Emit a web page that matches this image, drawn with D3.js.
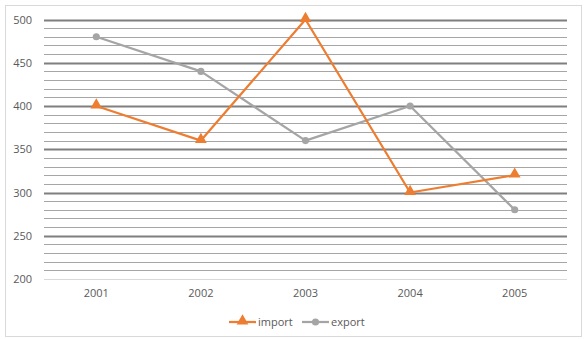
<!DOCTYPE html>
<html><head><meta charset="utf-8">
<script src="https://cdn.jsdelivr.net/npm/d3@7"></script>
<style>html,body{margin:0;padding:0;background:#fff;}svg{display:block;}</style>
</head><body>
<svg id="c" width="588" height="339"></svg>
<script>
const years = ["2001","2002","2003","2004","2005"];
const importValues = [400, 360, 500, 300, 320];
const exportValues = [480, 440, 360, 400, 280];
const yTicks = [200, 250, 300, 350, 400, 450, 500];
const seriesNames = ["import", "export"];

const svg = d3.select("#c");
const W = 588, H = 339;
const m = {left: 44, right: 21, top: 19.5, bottom: 60};
const font = "'Open Sans', 'Noto Sans', sans-serif";

svg.append("rect").attr("x", 5.5).attr("y", 5.5).attr("width", 576).attr("height", 331)
  .attr("fill", "#fff").attr("stroke", "#d9d9d9").attr("stroke-width", 1);

const x = d3.scaleBand().domain(years).range([m.left, W - m.right]);
const y = d3.scaleLinear().domain([200, 500]).range([279, 19.5]);

// gridlines (minor every 10, major every 50)
const minor = d3.range(200, 501, 10);
svg.append("g").selectAll("line").data(minor).join("line")
  .attr("x1", m.left).attr("x2", W - m.right)
  .attr("y1", d => Math.round(y(d)) + 0.5).attr("y2", d => Math.round(y(d)) + 0.5)
  .attr("stroke", d => d === 200 ? "#d9d9d9" : (d % 50 === 0 ? "#7f7f7f" : "#a6a6a6"))
  .attr("stroke-width", d => (d % 50 === 0 && d !== 200) ? 2.2 : 1);

// y axis labels
const yAxis = d3.axisLeft(y).tickValues(yTicks).tickSize(0).tickPadding(12);
const gy = svg.append("g").attr("transform", `translate(${m.left},0)`).call(yAxis);
gy.select(".domain").remove();
gy.selectAll("text").attr("font-family", font).attr("font-size", 11).attr("fill", "#595959");

// x axis labels
const xAxis = d3.axisBottom(x).tickSize(0).tickPadding(10);
const gx = svg.append("g").attr("transform", `translate(0,279)`).call(xAxis);
gx.select(".domain").remove();
gx.selectAll("text").attr("font-family", font).attr("font-size", 11).attr("fill", "#595959");

const cx = d => x(d) + x.bandwidth() / 2;
const series = [
  {name: seriesNames[0], values: importValues, color: "#ed7d31", marker: "tri"},
  {name: seriesNames[1], values: exportValues, color: "#a5a5a5", marker: "circ"}
];
const line = d3.line().x((d, i) => cx(years[i])).y(d => y(d));
const triSym = d3.symbol().type(d3.symbolTriangle).size(60);
const circSym = d3.symbol().type(d3.symbolCircle).size(40);

series.slice().reverse().forEach(s => {
  svg.append("path").datum(s.values).attr("d", line)
    .attr("fill", "none").attr("stroke", s.color).attr("stroke-width", 2.25)
    .attr("stroke-linejoin", "round");
  svg.append("g").selectAll("path").data(s.values).join("path")
    .attr("transform", (d, i) => `translate(${cx(years[i])},${y(d) + (s.marker === "tri" ? -1 : 0)})`)
    .attr("d", s.marker === "tri" ? triSym : circSym)
    .attr("fill", s.color);
});

// legend
const leg = svg.append("g");
const legItems = [{s: series[0], x0: 229}, {s: series[1], x0: 302}];
legItems.forEach(it => {
  const ly = 322;
  leg.append("line").attr("x1", it.x0).attr("x2", it.x0 + 27).attr("y1", ly).attr("y2", ly)
    .attr("stroke", it.s.color).attr("stroke-width", 2.25);
  leg.append("path").attr("transform", `translate(${it.x0 + 13.5},${ly + (it.s.marker === "tri" ? -1 : 0)})`)
    .attr("d", it.s.marker === "tri" ? triSym : circSym).attr("fill", it.s.color);
  leg.append("text").attr("x", it.x0 + 29).attr("y", ly + 4).text(it.s.name)
    .attr("font-family", font).attr("font-size", 11).attr("fill", "#595959");
});
</script>
</body></html>
